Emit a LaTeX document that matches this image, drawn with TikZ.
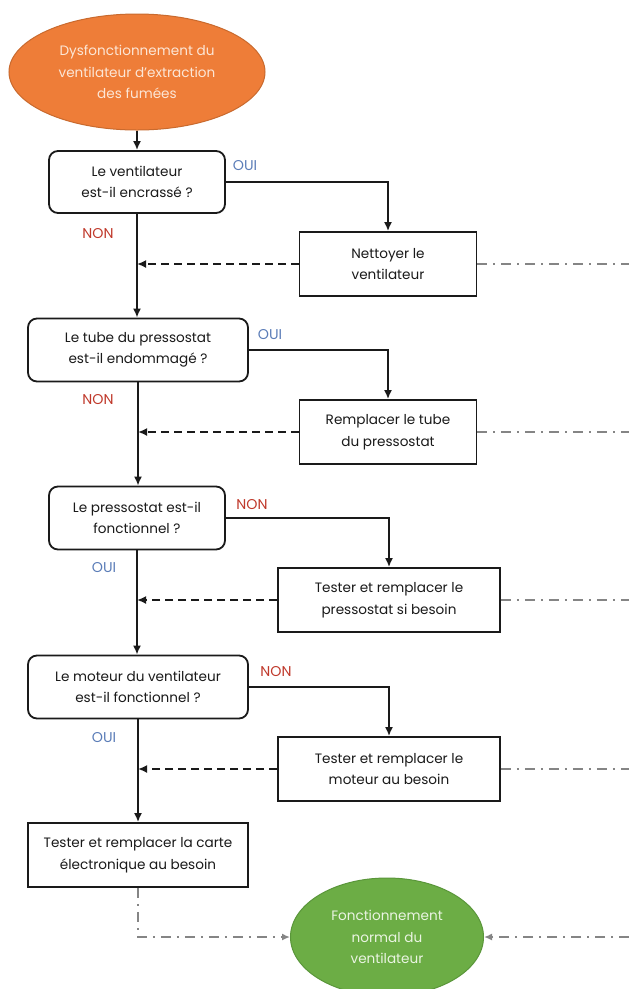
\documentclass[tikz,border=0pt]{standalone}
\usepackage{fontspec}
\setmainfont{Poppins}
\usetikzlibrary{arrows.meta,shapes.geometric}
\definecolor{orangefill}{HTML}{EE7D38}
\definecolor{orangeline}{HTML}{C96A2E}
\definecolor{orangetext}{HTML}{FCE6D6}
\definecolor{greenfill}{HTML}{6CAD45}
\definecolor{greenline}{HTML}{5A963A}
\definecolor{greentext}{HTML}{EAF4E2}
\definecolor{ouiblue}{HTML}{5B7DB8}
\definecolor{nonred}{HTML}{C0392B}
\definecolor{ink}{HTML}{1A1A1A}
\definecolor{linkgray}{HTML}{858585}
\begin{document}
\begin{tikzpicture}[x=1pt,y=-1pt,
  every node/.style={font=\fontsize{13.6}{21.5}\selectfont, text=ink, align=center},
  question/.style={draw=ink, line width=1.8pt, rounded corners=9pt, fill=white, inner sep=0pt},
  action/.style={draw=ink, line width=1.8pt, fill=white, inner sep=0pt},
  terminal/.style={ellipse, inner sep=0pt, line width=1pt},
  flow/.style={draw=ink, line width=1.8pt, -{Latex[length=9pt,width=8pt]}},
  back/.style={draw=ink, line width=1.8pt, dash pattern=on 8pt off 5pt, -{Latex[length=9pt,width=8pt]}},
  onward/.style={draw=linkgray, line width=1.8pt, dash pattern=on 10pt off 6pt on 2pt off 6pt},
  onwardarrow/.style={onward, -{Latex[length=8pt,width=7pt]}},
  oui/.style={font=\fontsize{14.2}{16}\selectfont, text=ouiblue},
  non/.style={font=\fontsize{14.2}{16}\selectfont, text=nonred}]
\useasboundingbox (0,0) rectangle (629,989);
\clip (0,0) rectangle (629,989);
\fill[white] (0,0) rectangle (629,989);
\coordinate (edge) at (629,0);

% start and end
\node[terminal, fill=orangefill, draw=orangeline, minimum width=256pt, minimum height=116pt,
      text=orangetext] (start) at (137,72) {Dysfonctionnement du\\ventilateur d'extraction\\des fumées};
\node[terminal, fill=greenfill, draw=greenline, minimum width=193pt, minimum height=118pt,
      text=greentext] (finish) at (387,937) {Fonctionnement\\normal du\\ventilateur};

% questions
\node[question, minimum width=176pt, minimum height=62pt] (q1) at (137,182) {Le ventilateur\\est-il encrassé ?};
\node[question, minimum width=220pt, minimum height=63pt] (q2) at (138,350) {Le tube du pressostat\\est-il endommagé ?};
\node[question, minimum width=176pt, minimum height=63pt] (q3) at (137,518) {Le pressostat est-il\\fonctionnel ?};
\node[question, minimum width=220pt, minimum height=63pt] (q4) at (138,687) {Le moteur du ventilateur\\est-il fonctionnel ?};

% actions
\node[action, minimum width=177pt, minimum height=64pt] (a1) at (388,264) {Nettoyer le\\ventilateur};
\node[action, minimum width=177pt, minimum height=64pt] (a2) at (388,432) {Remplacer le tube\\du pressostat};
\node[action, minimum width=222pt, minimum height=64pt] (a3) at (389,600) {Tester et remplacer le\\pressostat si besoin};
\node[action, minimum width=222pt, minimum height=64pt] (a4) at (389,769) {Tester et remplacer le\\moteur au besoin};
\node[action, minimum width=220pt, minimum height=64pt] (a5) at (138,855) {Tester et remplacer la carte\\électronique au besoin};

% main trunk
\draw[flow] (start.south) -- (start.south |- q1.north);
\draw[flow] (q1.south) -- (q1.south |- q2.north);
\draw[flow] (q2.south) -- (q2.south |- q3.north);
\draw[flow] (q3.south) -- (q3.south |- q4.north);
\draw[flow] (q4.south) -- (q4.south |- a5.north);

% branches to the actions
\draw[flow] (q1.east) -| (a1.north);
\draw[flow] (q2.east) -| (a2.north);
\draw[flow] (q3.east) -| (a3.north);
\draw[flow] (q4.east) -| (a4.north);

% returns to the trunk
\draw[back] (a1.west) -- (a1.west -| q1.south);
\draw[back] (a2.west) -- (a2.west -| q2.south);
\draw[back] (a3.west) -- (a3.west -| q3.south);
\draw[back] (a4.west) -- (a4.west -| q4.south);

% onward links towards the end
\draw[onward] (a1.east) -- (a1.east -| edge);
\draw[onward] (a2.east) -- (a2.east -| edge);
\draw[onward] (a3.east) -- (a3.east -| edge);
\draw[onward] (a4.east) -- (a4.east -| edge);
\draw[onwardarrow] (a5.south) |- (finish.west);
\draw[onwardarrow] (finish.east -| edge) -- (finish.east);

% answer labels
\node[oui] (l1) at (245,166) {OUI};
\node[non] (l2) at (98,234) {NON};
\node[oui] (l3) at (270,335) {OUI};
\node[non] (l4) at (98,400) {NON};
\node[non] (l5) at (252,505) {NON};
\node[oui] (l6) at (104,568) {OUI};
\node[non] (l7) at (276,672) {NON};
\node[oui] (l8) at (104,738) {OUI};
\end{tikzpicture}
\end{document}
